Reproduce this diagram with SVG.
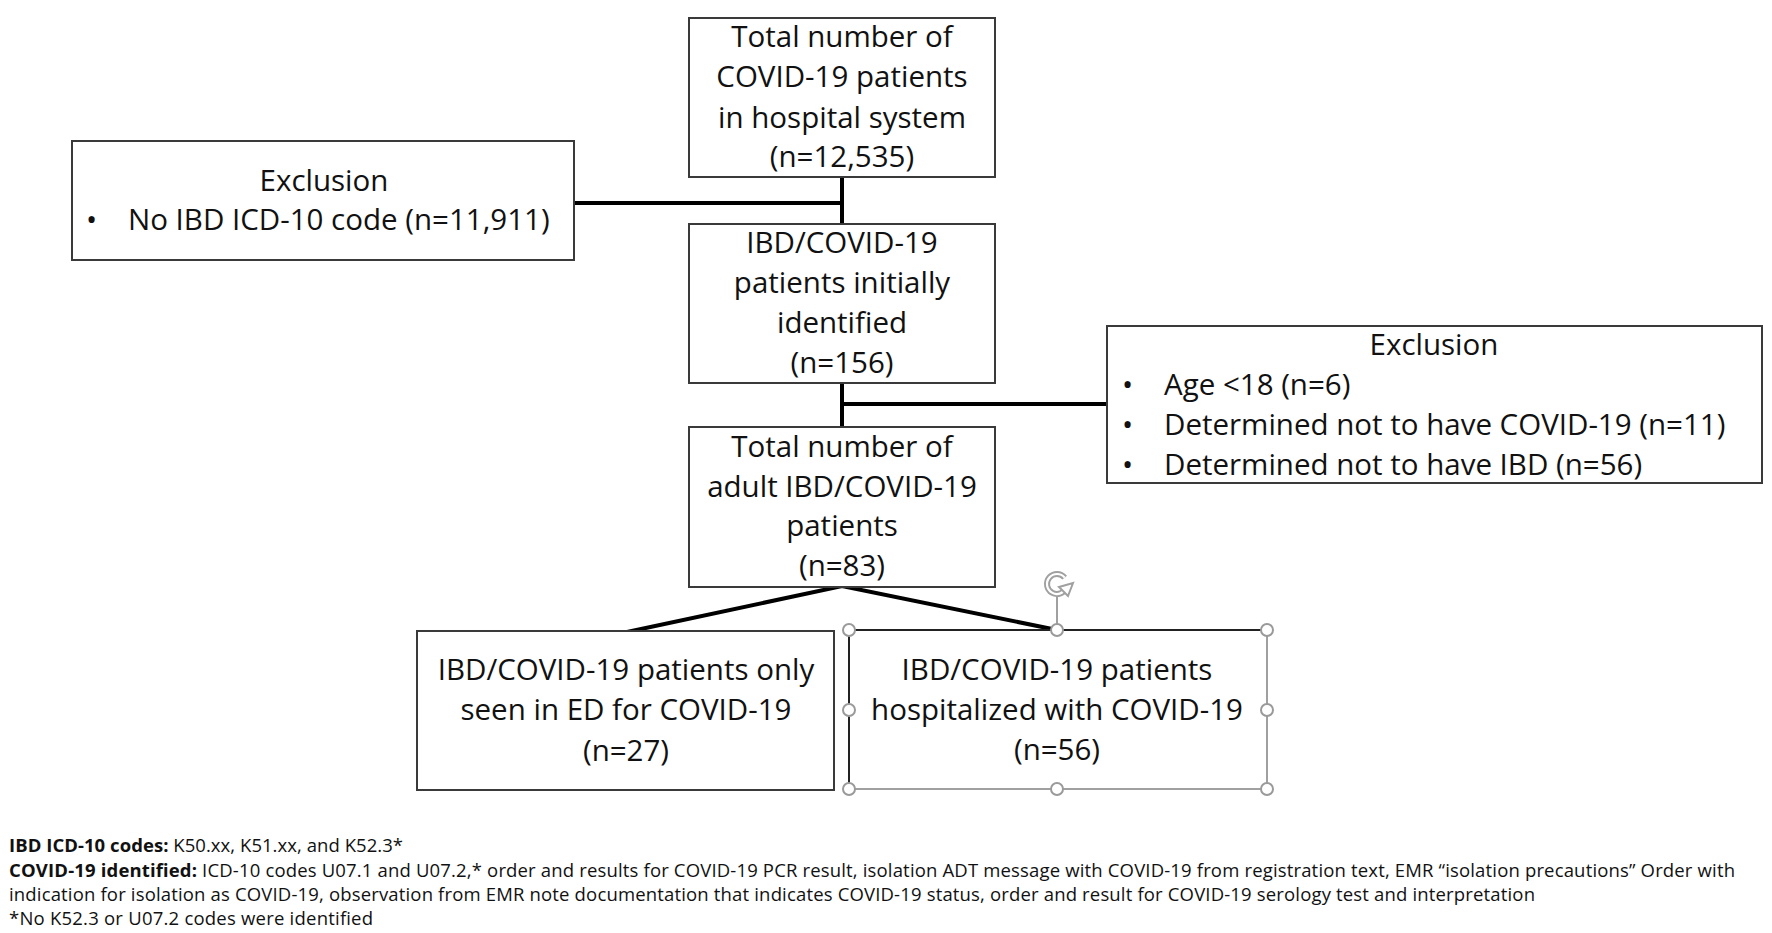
<svg xmlns="http://www.w3.org/2000/svg" width="1772" height="933" viewBox="0 0 1772 933">
<style>
.box{fill:#fff;stroke:#3a3a3a;stroke-width:2}
.t{font-family:"Open Sans","Noto Sans","Liberation Sans",sans-serif;font-size:29.5px;fill:#111;text-anchor:middle}
.l{text-anchor:start}
.c{stroke:#000;stroke-width:4;fill:none}
.f{font-family:"Open Sans","Noto Sans","Liberation Sans",sans-serif;font-size:18.5px;fill:#111}
.b{font-weight:bold}
.h{fill:#fff;stroke:#9a9a9a;stroke-width:2}
</style>
<rect width="1772" height="933" fill="#fff"/>
<g id="connectors">
<line class="c" x1="842" y1="177" x2="842" y2="224"/>
<line class="c" x1="574" y1="203" x2="842" y2="203"/>
<line class="c" x1="842" y1="383" x2="842" y2="427"/>
<line class="c" x1="842" y1="404" x2="1107" y2="404"/>
<polyline class="c" points="627,632 842,586 1057,630"/>
</g>
<g id="n-total">
<rect class="box" x="689" y="18" width="306" height="159"/>
<text class="t" x="842" y="47">Total number of</text>
<text class="t" x="842" y="87">COVID-19 patients</text>
<text class="t" x="842" y="128">in hospital system</text>
<text class="t" x="842" y="167">(n=12,535)</text>
</g>
<g id="n-excl1">
<rect class="box" x="72" y="141" width="502" height="119"/>
<text class="t" x="324" y="191">Exclusion</text>
<text class="t l" x="86" y="230">•</text>
<text class="t l" x="128" y="230">No IBD ICD-10 code (n=11,911)</text>
</g>
<g id="n-initial">
<rect class="box" x="689" y="224" width="306" height="159"/>
<text class="t" x="842" y="253">IBD/COVID-19</text>
<text class="t" x="842" y="293">patients initially</text>
<text class="t" x="842" y="333">identified</text>
<text class="t" x="842" y="373">(n=156)</text>
</g>
<g id="n-excl2">
<rect class="box" x="1107" y="326" width="655" height="157"/>
<text class="t" x="1434" y="355">Exclusion</text>
<text class="t l" x="1122" y="395">•</text>
<text class="t l" x="1164" y="395">Age &lt;18 (n=6)</text>
<text class="t l" x="1122" y="435">•</text>
<text class="t l" x="1164" y="435">Determined not to have COVID-19 (n=11)</text>
<text class="t l" x="1122" y="475">•</text>
<text class="t l" x="1164" y="475">Determined not to have IBD (n=56)</text>
</g>
<g id="n-adult">
<rect class="box" x="689" y="427" width="306" height="160"/>
<text class="t" x="842" y="457">Total number of</text>
<text class="t" x="842" y="497">adult IBD/COVID-19</text>
<text class="t" x="842" y="536">patients</text>
<text class="t" x="842" y="576">(n=83)</text>
</g>
<g id="n-ed">
<rect class="box" x="417" y="631" width="417" height="159"/>
<text class="t" x="626" y="680">IBD/COVID-19 patients only</text>
<text class="t" x="626" y="720">seen in ED for COVID-19</text>
<text class="t" x="626" y="761">(n=27)</text>
</g>
<g id="n-hosp">
<rect x="849" y="630" width="418" height="159" fill="#fff" stroke="#a0a0a0" stroke-width="2"/>
<polyline points="849,789 849,630 1267,630" fill="none" stroke="#222" stroke-width="2"/>
<text class="t" x="1057" y="680">IBD/COVID-19 patients</text>
<text class="t" x="1057" y="720">hospitalized with COVID-19</text>
<text class="t" x="1057" y="760">(n=56)</text>
<line x1="1057" y1="597" x2="1057" y2="624" stroke="#a0a0a0" stroke-width="2"/>
<path d="M1064.7,577.6 A10,10 0 1 0 1066.4,587.4" fill="none" stroke="#a0a0a0" stroke-width="6"/>
<path d="M1064.7,577.6 A10,10 0 1 0 1066.4,587.4" fill="none" stroke="#fff" stroke-width="2.2"/>
<polygon points="1059,587 1073,583 1068,596" fill="#fff" stroke="#a0a0a0" stroke-width="2"/>
<circle class="h" cx="849" cy="630" r="6"/>
<circle class="h" cx="1057" cy="630" r="6"/>
<circle class="h" cx="1267" cy="630" r="6"/>
<circle class="h" cx="849" cy="710" r="6"/>
<circle class="h" cx="1267" cy="710" r="6"/>
<circle class="h" cx="849" cy="789" r="6"/>
<circle class="h" cx="1057" cy="789" r="6"/>
<circle class="h" cx="1267" cy="789" r="6"/>
</g>
<g id="footer">
<text class="f" x="9" y="852" textLength="394" lengthAdjust="spacing"><tspan class="b">IBD ICD-10 codes:</tspan> K50.xx, K51.xx, and K52.3*</text>
<text class="f" x="9" y="877" textLength="1726" lengthAdjust="spacing"><tspan class="b">COVID-19 identified:</tspan> ICD-10 codes U07.1 and U07.2,* order and results for COVID-19 PCR result, isolation ADT message with COVID-19 from registration text, EMR “isolation precautions” Order with</text>
<text class="f" x="9" y="901" textLength="1526" lengthAdjust="spacing">indication for isolation as COVID-19, observation from EMR note documentation that indicates COVID-19 status, order and result for COVID-19 serology test and interpretation</text>
<text class="f" x="9" y="925" textLength="364" lengthAdjust="spacing">*No K52.3 or U07.2 codes were identified</text>
</g>
</svg>
